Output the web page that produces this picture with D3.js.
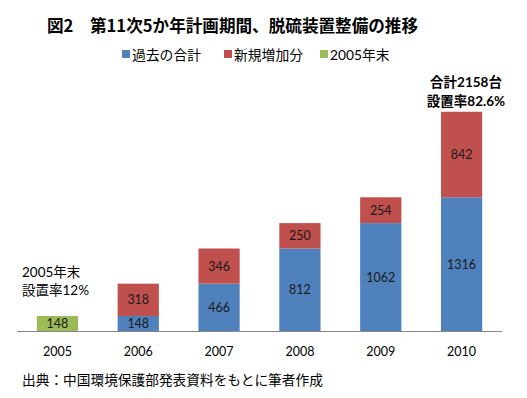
<!DOCTYPE html>
<html>
<head>
<meta charset="utf-8">
<script src="https://cdn.jsdelivr.net/npm/d3@7"></script>
<style>
  body { margin: 0; background: #fff; }
  svg { font-family: Lato, "Noto Sans CJK JP", sans-serif; }
</style>
</head>
<body>
<svg id="chart" width="527" height="398"></svg>
<script>
// data
const years = ["2005", "2006", "2007", "2008", "2009", "2010"];
const pastTotal = [0, 148, 466, 812, 1062, 1316];
const newAdded = [0, 318, 346, 250, 254, 842];
const end2005 = [148, 0, 0, 0, 0, 0];
const seriesNames = ["過去の合計", "新規増加分", "2005年末"];
const seriesColors = ["#4F81BD", "#C0504D", "#9BBB59"];

const svg = d3.select("#chart");

const x = d3.scaleBand().domain(years).range([17, 502]).paddingInner(0.49).paddingOuter(0.245);
const y = d3.scaleLinear().domain([0, 2500]).range([331, 77]);

// stack: 2005 green first, then blue, then red
const rows = years.map((yr, i) => ({ year: yr, end: end2005[i], past: pastTotal[i], added: newAdded[i] }));
const stack = d3.stack().keys(["end", "past", "added"])(rows);
const colorOf = { end: seriesColors[2], past: seriesColors[0], added: seriesColors[1] };

stack.forEach(layer => {
    const g = svg.append("g");
    layer.forEach(d => {
        const v = d[1] - d[0];
        if (v <= 0) return;
        g.append("rect")
            .attr("x", x(d.data.year))
            .attr("y", y(d[1]))
            .attr("width", x.bandwidth())
            .attr("height", y(d[0]) - y(d[1]))
            .attr("fill", colorOf[layer.key]);
        g.append("text")
            .attr("x", x(d.data.year) + x.bandwidth() / 2)
            .attr("y", (y(d[0]) + y(d[1])) / 2 + 4.5)
            .attr("text-anchor", "middle")
            .attr("font-size", 12.5)
            .attr("fill", "#1a1a1a")
            .text(v);
    });
});

// axis
const axis = svg.append("g")
    .attr("transform", "translate(0,331)")
    .call(d3.axisBottom(x).tickSize(0).tickPadding(16));
axis.select(".domain").attr("stroke", "#868686").attr("stroke-width", 1).attr("d", "M17,0.5H502");
axis.selectAll("text").attr("font-size", 12.5).attr("fill", "#000")
    .attr("font-family", "Lato, 'Noto Sans CJK JP', sans-serif");

// title
svg.append("text")
    .attr("x", 47).attr("y", 32)
    .attr("font-size", 16.6).attr("font-weight", "bold")
    .attr("font-family", "'Noto Sans CJK JP', sans-serif")
    .text("図2　第11次5か年計画期間、脱硫装置整備の推移");

// legend
const legendX = [122, 224, 320];
const legendOrder = [0, 1, 2];
legendOrder.forEach((k, i) => {
    svg.append("rect")
        .attr("x", legendX[i]).attr("y", 50)
        .attr("width", 8).attr("height", 8)
        .attr("fill", seriesColors[k]);
    svg.append("text")
        .attr("x", legendX[i] + 10).attr("y", 59.5)
        .attr("font-size", 13.8)
        .text(seriesNames[k]);
});

// annotations
const left = svg.append("text").attr("font-size", 13.5);
left.append("tspan").attr("x", 22).attr("y", 277).text("2005年末");
left.append("tspan").attr("x", 22).attr("y", 295).text("設置率12%");

const top10 = svg.append("text")
    .attr("font-size", 13.5).attr("font-weight", "bold").attr("text-anchor", "middle");
top10.append("tspan").attr("x", 466).attr("y", 87).text("合計2158台");
top10.append("tspan").attr("x", 466).attr("y", 106).text("設置率82.6%");

// source
svg.append("text")
    .attr("x", 22).attr("y", 385)
    .attr("font-size", 13.7)
    .text("出典：中国環境保護部発表資料をもとに筆者作成");
</script>
</body>
</html>
